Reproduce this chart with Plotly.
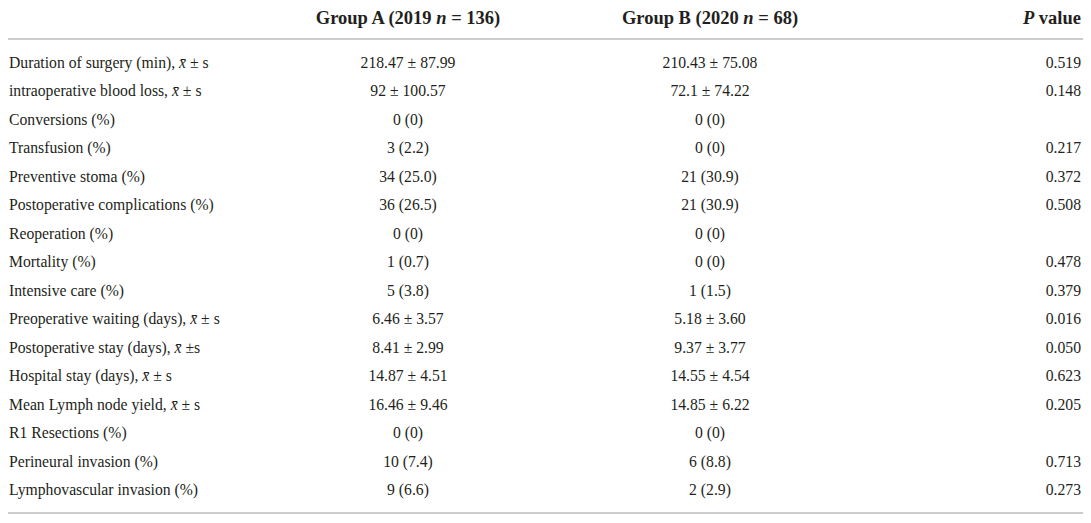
import plotly.graph_objects as go

# table content
row_labels = [
    "Duration of surgery (min), <i>x̄</i> ± s",
    "intraoperative blood loss, <i>x̄</i> ± s",
    "Conversions (%)",
    "Transfusion (%)",
    "Preventive stoma (%)",
    "Postoperative complications (%)",
    "Reoperation (%)",
    "Mortality (%)",
    "Intensive care (%)",
    "Preoperative waiting (days), <i>x̄</i> ± s",
    "Postoperative stay (days), <i>x̄</i> ±s",
    "Hospital stay (days), <i>x̄</i> ± s",
    "Mean Lymph node yield, <i>x̄</i> ± s",
    "R1 Resections (%)",
    "Perineural invasion (%)",
    "Lymphovascular invasion (%)",
]
group_a = [
    "218.47 ± 87.99", "92 ± 100.57", "0 (0)", "3 (2.2)", "34 (25.0)",
    "36 (26.5)", "0 (0)", "1 (0.7)", "5 (3.8)", "6.46 ± 3.57",
    "8.41 ± 2.99", "14.87 ± 4.51", "16.46 ± 9.46", "0 (0)", "10 (7.4)",
    "9 (6.6)",
]
group_b = [
    "210.43 ± 75.08", "72.1 ± 74.22", "0 (0)", "0 (0)", "21 (30.9)",
    "21 (30.9)", "0 (0)", "0 (0)", "1 (1.5)", "5.18 ± 3.60",
    "9.37 ± 3.77", "14.55 ± 4.54", "14.85 ± 6.22", "0 (0)", "6 (8.8)",
    "2 (2.9)",
]
p_values = [
    "0.519", "0.148", "", "0.217", "0.372", "0.508", "", "0.478", "0.379",
    "0.016", "0.050", "0.623", "0.205", "", "0.713", "0.273",
]
headers = ["", "Group A (2019 <i>n</i> = 136)", "Group B (2020 <i>n</i> = 68)", "<i>P</i> value"]

W, H = 1091, 523
OFF = 8                        # page body margin on every side
ROW0, STEP = 64, 28.5          # page pixel centre of first row, row pitch
HEADER_ROW = (19 - ROW0) / STEP
X_LABEL, X_A, X_B, X_P = 9, 408, 710, 1081

rows = list(range(len(row_labels)))
font = dict(family="Liberation Serif, Times New Roman, serif", size=15.7, color="#231f20")
hfont = dict(family="Liberation Serif, Times New Roman, serif", size=18.5, color="#231f20")

fig = go.Figure()
fig.add_trace(go.Scatter(x=[X_LABEL] * len(rows), y=rows, text=row_labels, mode="text",
                         textposition="middle right", textfont=font, cliponaxis=False))
fig.add_trace(go.Scatter(x=[X_A] * len(rows), y=rows, text=group_a, mode="text",
                         textposition="middle center", textfont=font, cliponaxis=False))
fig.add_trace(go.Scatter(x=[X_B] * len(rows), y=rows, text=group_b, mode="text",
                         textposition="middle center", textfont=font, cliponaxis=False))
fig.add_trace(go.Scatter(x=[X_P] * len(rows), y=rows, text=p_values, mode="text",
                         textposition="middle left", textfont=font, cliponaxis=False))

# header row
fig.add_trace(go.Scatter(x=[X_A, X_B], y=[HEADER_ROW] * 2,
                         text=["<b>" + h + "</b>" for h in headers[1:3]], mode="text",
                         textposition="middle center", textfont=hfont, cliponaxis=False))
fig.add_trace(go.Scatter(x=[X_P], y=[HEADER_ROW], text=["<b>" + headers[3] + "</b>"],
                         mode="text", textposition="middle left", textfont=hfont,
                         cliponaxis=False))

top_line = (39 - ROW0) / STEP
bottom_line = (513 - ROW0) / STEP
for yl in (top_line, bottom_line):
    fig.add_shape(type="line", x0=OFF, x1=W - OFF, y0=yl, y1=yl, xref="x", yref="y",
                  line=dict(color="#cccccc", width=2))

fig.update_layout(
    width=W - 2 * OFF, height=H - 2 * OFF,
    margin=dict(l=0, r=0, t=0, b=0),
    paper_bgcolor="white", plot_bgcolor="white",
    showlegend=False,
    xaxis=dict(range=[OFF, W - OFF], visible=False, fixedrange=True),
    yaxis=dict(range=[(H - OFF - ROW0) / STEP, (OFF - ROW0) / STEP], visible=False,
               fixedrange=True),
)

fig.write_html("out.html")
